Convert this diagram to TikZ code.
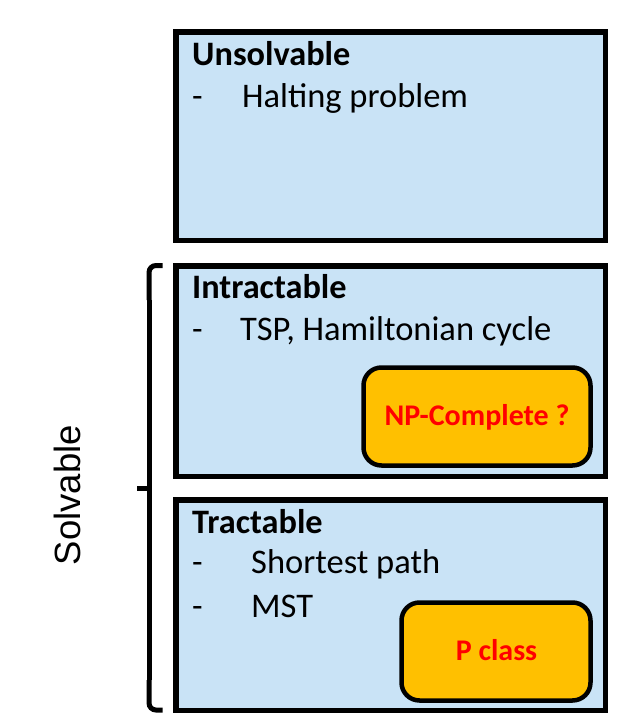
\documentclass[tikz,border=0pt]{standalone}
\usepackage{fontspec}
\setmainfont{Carlito}
\newfontfamily\arialf{Liberation Sans}
\definecolor{boxblue}{HTML}{C9E3F6}
\definecolor{boxorange}{HTML}{FFC000}
\definecolor{redtext}{HTML}{FF0000}
\begin{document}
\begin{tikzpicture}[x=1pt,y=-1pt,
  classbox/.style={draw=black,line width=5.5pt,fill=boxblue},
  subbox/.style={draw=black,line width=4.5pt,fill=boxorange,rounded corners=18pt},
  title/.style={anchor=base west,inner sep=0pt,font=\fontsize{34.3}{40}\selectfont\bfseries},
  item/.style={anchor=base west,inner sep=0pt,font=\fontsize{34.5}{40}\selectfont},
  redlabel/.style={anchor=base,inner sep=0pt,text=redtext,font=\fontsize{30}{36}\selectfont\bfseries},
  bracestyle/.style={draw=black,line width=5pt}]
\useasboundingbox (0,0) rectangle (633,720);
% boxes
\path[classbox] (175.75,31.75) rectangle (605.5,240.25);
\path[classbox] (175.75,265.75) rectangle (605.5,476.25);
\path[classbox] (175.75,499.75) rectangle (605.5,710.25);
\path[subbox] (363.5,367.5) rectangle (590.5,465.5);
\path[subbox] (401.5,602.5) rectangle (590.5,700.5);
% texts
\node[title] (t1) at (192,65) {Unsolvable};
\node[item] (d1) at (192,107) {-};
\node[item] (i1) at (242,107) {Halting problem};
\node[title] (t2) at (192,298) {Intractable};
\node[item] (d2) at (192,340) {-};
\node[item] (i2) at (240,340) {TSP, Hamiltonian cycle};
\node[title] (t3) at (192,533) {Tractable};
\node[item] (d3) at (192,573) {-};
\node[item] (i3) at (251,573) {Shortest path};
\node[item] (d4) at (192,617) {-};
\node[item] (i4) at (251,617) {MST};
\node[redlabel] (np) at (477,425) {NP-Complete ?};
\node[redlabel] (pc) at (496.5,660) {P class};
% brace
\coordinate (bt) at (149,300);
\coordinate (bb) at (149,680);
\coordinate (bm) at (149,488);
\coordinate (bn) at (137,488);
\draw[bracestyle,rounded corners=7pt] (bt) -- (149,265.5) -- (162.5,265.5);
\draw[bracestyle] (bt) -- (bb);
\draw[bracestyle] (bm) -- (bn);
\draw[bracestyle,rounded corners=7pt] (bb) -- (149,710) -- (162.5,710);
\node[inner sep=0pt,rotate=90,font=\arialf\fontsize{36.5}{40}\selectfont] (solv) at (67,495) {Solvable};
\end{tikzpicture}
\end{document}
